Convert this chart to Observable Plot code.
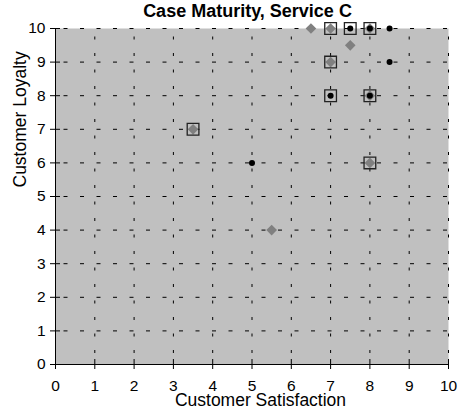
<!DOCTYPE html>
<html><head><meta charset="utf-8">
<script src="https://cdn.jsdelivr.net/npm/d3@7"></script>
<script src="https://cdn.jsdelivr.net/npm/@observablehq/plot@0.6"></script>
<style>body{margin:0;background:#fff;} svg{display:block;}</style>
</head><body><div id="chart"></div>
<script>
const title = "Case Maturity, Service C";
const xLabel = "Customer Satisfaction";
const yLabel = "Customer Loyalty";
const ticks = [0,1,2,3,4,5,6,7,8,9,10];
const tickLabels = ["0","1","2","3","4","5","6","7","8","9","10"];

// Series 1: gray diamonds
const diamondX = [6.5, 7, 7.5, 7, 3.5, 8, 5.5, 8, 8];
const diamondY = [10, 10, 9.5, 9, 7, 6, 4, 8, 10];
// Series 2: black dots
const dotX = [7.5, 8, 8.5, 8.5, 7, 8, 5];
const dotY = [10, 10, 10, 9, 8, 8, 6];
// Series 3: open squares
const squareX = [7, 7.5, 8, 7, 7, 8, 3.5, 8];
const squareY = [10, 10, 10, 9, 8, 8, 7, 6];

const zip = (xs, ys) => xs.map((x, i) => ({x, y: ys[i]}));
const diamonds = zip(diamondX, diamondY);
const dots = zip(dotX, dotY);
const squares = zip(squareX, squareY);
const tickData = ticks.map((v, i) => ({v, label: tickLabels[i]}));

const font = "'Liberation Sans', Arial, sans-serif";

const chart = Plot.plot({
  width: 461, height: 414,
  marginLeft: 55, marginRight: 13, marginTop: 28, marginBottom: 50,
  style: {fontFamily: font, color: "#000", background: "#fff"},
  x: {domain: [0, 10]},
  y: {domain: [0, 10]},
  marks: [
    Plot.frame({fill: "#c0c0c0", stroke: "none"}),
    Plot.ruleX(ticks, {x: d => d, stroke: "#000", strokeWidth: 1, strokeDasharray: "3,13.5", strokeDashoffset: 8}),
    Plot.ruleY(ticks, {y: d => d, stroke: "#000", strokeWidth: 1, strokeDasharray: "4,12.5", strokeDashoffset: 8}),
    Plot.ruleX([0], {stroke: "#000"}),
    Plot.ruleY([0], {stroke: "#000"}),
    Plot.axisX({ticks, tickSize: 5, tickFormat: () => "", label: null}),
    Plot.axisX({ticks, tickSize: -5, tickFormat: () => "", label: null}),
    Plot.axisY({ticks, tickSize: 5, tickFormat: () => "", label: null}),
    Plot.axisY({ticks, tickSize: -5, tickFormat: () => "", label: null}),
    Plot.text(tickData, {x: "v", frameAnchor: "bottom", lineAnchor: "middle", dy: 21.5, text: "label", fontSize: 15.5, fill: "#000"}),
    Plot.text(tickData, {y: "v", frameAnchor: "left", lineAnchor: "middle", textAnchor: "end", dx: -10, text: "label", fontSize: 15.5, fill: "#000"}),
    Plot.dot(diamonds, {x: "x", y: "y", symbol: "diamond2", r: 4.8, fill: "#808080", stroke: "none"}),
    Plot.dot(dots, {x: "x", y: "y", symbol: "circle", r: 3, fill: "#000", stroke: "none"}),
    Plot.dot(squares, {x: "x", y: "y", symbol: "square", r: 6.6, fill: "none", stroke: "#222", strokeWidth: 1.3}),
    Plot.text([title], {frameAnchor: "top", lineAnchor: "middle", dx: -4.5, dy: -17.5, text: d => d, fontWeight: "bold", fontSize: 18, fill: "#000"}),
    Plot.text([xLabel], {frameAnchor: "bottom", lineAnchor: "middle", dx: 8.5, dy: 35.5, text: d => d, fontSize: 17.5, fill: "#000"}),
    Plot.text([yLabel], {frameAnchor: "left", lineAnchor: "middle", dx: -35, dy: -9, rotate: -90, text: d => d, fontSize: 17.5, fill: "#000"})
  ]
});
document.getElementById("chart").appendChild(chart);
</script></body></html>
